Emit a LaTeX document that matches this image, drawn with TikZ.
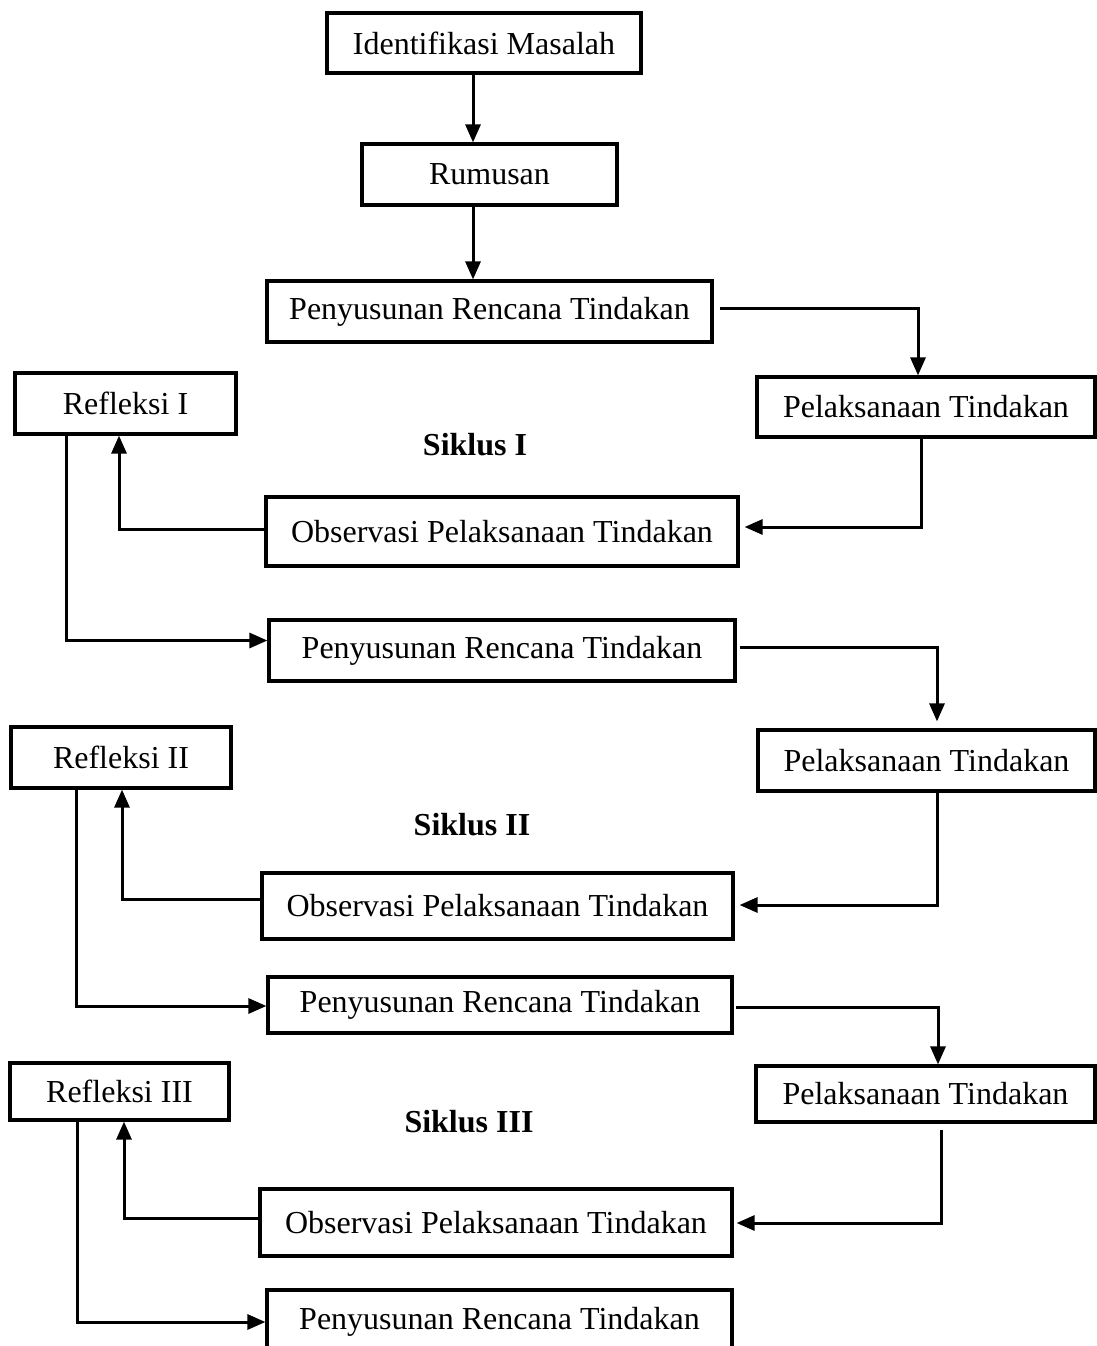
\documentclass[tikz,border=0pt]{standalone}
\usepackage{fontspec}
\setmainfont{Liberation Serif}
\usetikzlibrary{arrows.meta}
\begin{document}
\begin{tikzpicture}[x=1pt,y=-1pt,
  box/.style={draw,line width=3.2pt,inner sep=0pt,font=\fontsize{32}{36}\selectfont},
  lbl/.style={font=\bfseries\fontsize{32}{36}\selectfont},
  arr/.style={line width=3pt,-{Triangle[length=18pt,width=15pt]}},
  ln/.style={line width=3pt}]
\clip (0,0) rectangle (1097,1346);
\fill[white] (0,0) rectangle (1097,1346);
% boxes
\node[box,minimum width=314pt,minimum height=60pt] (idm) at (484,43) {Identifikasi Masalah};
\node[box,minimum width=255pt,minimum height=61pt] (rum) at (489.5,174.5) {Rumusan};
\node[box,minimum width=445pt,minimum height=61pt] (pr1) at (489.5,311.5) {Penyusunan Rencana Tindakan};
\node[box,minimum width=338pt,minimum height=60pt] (pl1) at (926,407) {Pelaksanaan Tindakan};
\node[box,minimum width=221pt,minimum height=61pt] (ref1) at (125.5,403.5) {Refleksi I};
\node[lbl] (sik1) at (475,445) {Siklus I};
\node[box,minimum width=472pt,minimum height=69pt] (obs1) at (502,531.5) {Observasi Pelaksanaan Tindakan};
\node[box,minimum width=466pt,minimum height=61pt] (pr2) at (502,650.5) {Penyusunan Rencana Tindakan};
\node[box,minimum width=337pt,minimum height=61pt] (pl2) at (926.5,760.5) {Pelaksanaan Tindakan};
\node[box,minimum width=220pt,minimum height=61pt] (ref2) at (121,757.5) {Refleksi II};
\node[lbl] (sik2) at (472,825) {Siklus II};
\node[box,minimum width=471pt,minimum height=66pt] (obs2) at (497.5,906) {Observasi Pelaksanaan Tindakan};
\node[box,minimum width=464pt,minimum height=56pt] (pr3) at (500,1005) {Penyusunan Rencana Tindakan};
\node[box,minimum width=339pt,minimum height=56pt] (pl3) at (925.5,1094) {Pelaksanaan Tindakan};
\node[box,minimum width=219pt,minimum height=57pt] (ref3) at (119.5,1091.5) {Refleksi III};
\node[lbl] (sik3) at (469,1122) {Siklus III};
\node[box,minimum width=472pt,minimum height=67pt] (obs3) at (496,1222.5) {Observasi Pelaksanaan Tindakan};
\node[box,minimum width=465pt,minimum height=80pt] (pr4) at (499.5,1330) {};
\node[font=\fontsize{32}{36}\selectfont] (pr4t) at (499.5,1322) {Penyusunan Rencana Tindakan};
% connectors
\draw[arr] ([xshift=-11pt]idm.south) -- ([xshift=-11pt]idm.south |- rum.north);
\draw[arr] ([xshift=-16.5pt]rum.south) -- ([xshift=-16.5pt]rum.south |- pr1.north);
\draw[arr,shorten <=6pt] ([yshift=3.5pt]pr1.east) -| ([xshift=-8pt]pl1.north);
\draw[arr,shorten >=5pt] ([xshift=-5pt]pl1.south) |- ([yshift=4.5pt]obs1.east);
\draw[arr] ([yshift=2.5pt]obs1.west) -| ([xshift=-6.5pt]ref1.south);
\draw[arr] ([xshift=-59.5pt]ref1.south) |- ([yshift=10pt]pr2.west);
\draw[arr,shorten >=7pt,shorten <=3pt] ([yshift=3.5pt]pr2.east) -| ([xshift=10.5pt]pl2.north);
\draw[arr,shorten >=5pt] ([xshift=10.5pt]pl2.south) |- ([yshift=1pt]obs2.east);
\draw[arr] ([yshift=7pt]obs2.west) -| ([xshift=1pt]ref2.south);
\draw[arr] ([xshift=-45pt]ref2.south) |- ([yshift=-1pt]pr3.west);
\draw[arr,shorten <=2pt] ([yshift=-2pt]pr3.east) -| ([xshift=12.5pt]pl3.north);
\draw[arr,shorten >=3pt,shorten <=6pt] ([xshift=15.5pt]pl3.south) |- ([yshift=-0.5pt]obs3.east);
\draw[arr] ([yshift=4.5pt]obs3.west) -| ([xshift=4.5pt]ref3.south);
\draw[arr] ([xshift=-42.5pt]ref3.south) |- (pr4.west |- pr4t.center);
\end{tikzpicture}
\end{document}
